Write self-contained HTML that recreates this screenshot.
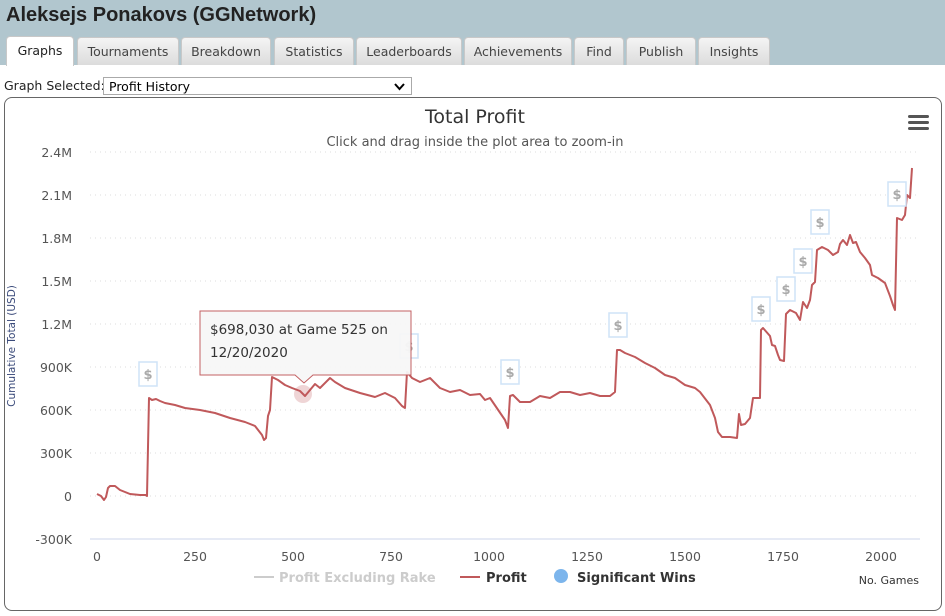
<!DOCTYPE html>
<html><head><style>
body{margin:0;width:945px;height:616px;background:#fff;font-family:"DejaVu Sans","Liberation Sans",sans-serif;position:relative;overflow:hidden}
.hdr{position:absolute;left:0;top:0;width:945px;height:65px;background:#b1c6ce}
.title{position:absolute;left:6px;top:4px;font:bold 20px "Liberation Sans",Arial,sans-serif;color:#222}
.tab{position:absolute;top:37px;height:27px;background:linear-gradient(#f4f4f4,#dcdcdc);border:1px solid #c8c8c8;border-bottom:none;border-radius:4px 4px 0 0;font-size:12.5px;color:#444;text-align:center;line-height:27px}
.tab.on{background:#fff;top:36px;height:29px;color:#222}
.sel{position:absolute;left:4px;top:78px;font-size:12.5px;color:#222}
.box{position:absolute;left:103px;top:77px;height:18px;border:1px solid #aaa;font-size:12.5px;line-height:18px;padding-left:5px;box-sizing:border-box;width:309px}
.chart{position:absolute;left:4px;top:97px;width:938px;height:514px;border:1px solid #666;border-radius:8px;box-sizing:border-box}
</style></head><body>
<div class="hdr"><div class="title">Aleksejs Ponakovs (GGNetwork)</div>
<div class="tab on" style="left:6px;width:66px">Graphs</div>
<div class="tab" style="left:77px;width:100px">Tournaments</div>
<div class="tab" style="left:181px;width:88px">Breakdown</div>
<div class="tab" style="left:274px;width:78px">Statistics</div>
<div class="tab" style="left:356px;width:104px">Leaderboards</div>
<div class="tab" style="left:464px;width:106px">Achievements</div>
<div class="tab" style="left:574px;width:48px">Find</div>
<div class="tab" style="left:626px;width:68px">Publish</div>
<div class="tab" style="left:698px;width:70px">Insights</div>
</div>
<div class="sel">Graph Selected:</div>
<div class="box">Profit History<svg style="position:absolute;right:6px;top:5px" width="11" height="8"><path d="M1,1 L5.5,6 L10,1" fill="none" stroke="#000" stroke-width="2"/></svg></div>
<div class="chart"></div>
<svg width="945" height="616" style="position:absolute;left:0;top:0" font-family="DejaVu Sans,Liberation Sans,sans-serif">
<text x="475" y="123" text-anchor="middle" font-size="19" fill="#333">Total Profit</text>
<text x="475" y="146" text-anchor="middle" font-size="13" fill="#555">Click and drag inside the plot area to zoom-in</text>
<g fill="#555"><rect x="908" y="115" width="21" height="3" rx="1.5"/><rect x="908" y="121" width="21" height="3" rx="1.5"/><rect x="908" y="127" width="21" height="3" rx="1.5"/></g>
<g stroke="#ddd" stroke-dasharray="1,4">
<line x1="90" x2="920" y1="152" y2="152"/><line x1="90" x2="920" y1="195" y2="195"/><line x1="90" x2="920" y1="238" y2="238"/><line x1="90" x2="920" y1="281" y2="281"/><line x1="90" x2="920" y1="324" y2="324"/><line x1="90" x2="920" y1="367" y2="367"/><line x1="90" x2="920" y1="410" y2="410"/><line x1="90" x2="920" y1="453" y2="453"/><line x1="90" x2="920" y1="496" y2="496"/></g>
<line x1="90" x2="920" y1="539" y2="539" stroke="#ccd6eb"/>
<g font-size="12.5" fill="#555" text-anchor="end">
<text x="72" y="157">2.4M</text><text x="72" y="200">2.1M</text><text x="72" y="243">1.8M</text><text x="72" y="286">1.5M</text><text x="72" y="329">1.2M</text><text x="72" y="372">900K</text><text x="72" y="415">600K</text><text x="72" y="458">300K</text><text x="72" y="501">0</text><text x="72" y="544">-300K</text></g>
<g font-size="12.5" fill="#555" text-anchor="middle">
<text x="97" y="561">0</text><text x="195" y="561">250</text><text x="293" y="561">500</text><text x="391" y="561">750</text><text x="489" y="561">1000</text><text x="587" y="561">1250</text><text x="685" y="561">1500</text><text x="783" y="561">1750</text><text x="881" y="561">2000</text></g>
<text transform="translate(15,346) rotate(-90)" text-anchor="middle" font-size="10.5" fill="#3a4a7a">Cumulative Total (USD)</text>
<text x="919" y="584" text-anchor="end" font-size="11" fill="#333">No. Games</text>
<polyline fill="none" stroke="#c0595b" stroke-width="2" stroke-linejoin="round" points="97,494 101,496 104,500 106,497 108,488 110,486 115,486 120,490 125,492 130,494 140,495 146,495 147,496 149,398 152,400 156,399 160,401 165,403 175,405 185,408 200,410 215,413 230,418 245,422 255,426 262,435 264,440 266,438 268,416 270,410 272,377 278,380 285,385 292,388 300,391 305,396 310,390 315,384 320,388 330,378 335,382 345,388 360,393 375,397 385,393 395,398 402,406 405,408 407,372 412,378 420,382 430,378 440,388 450,392 460,390 470,395 480,394 485,400 490,398 505,420 508,428 510,396 513,395 520,402 530,402 540,396 550,398 560,392 570,392 580,395 590,393 600,396 610,396 615,392 617,350 620,350 625,353 635,357 645,363 655,368 665,375 675,378 685,385 695,388 700,392 710,405 715,418 718,432 722,437 730,437 737,438 739,414 741,425 745,424 750,418 753,398 760,398 761,330 763,328 770,336 772,345 775,346 778,355 780,360 784,361 786,314 790,310 796,313 800,320 803,302 807,308 810,300 812,285 815,282 817,250 822,247 828,250 833,255 838,252 840,244 843,240 847,245 850,235 853,243 856,242 860,252 865,258 870,265 872,275 878,278 885,283 890,296 893,305 895,310 897,218 902,220 905,215 907,195 910,198 912,168"/>
<g font-size="13" font-weight="bold" fill="#aaa" text-anchor="middle" stroke-width="1.5">
<g><rect x="139" y="362" width="18" height="24" fill="#fff" stroke="#cfe3f7"/><text x="148" y="379">$</text></g>
<g><rect x="400" y="334" width="18" height="24" fill="#fff" stroke="#cfe3f7"/><text x="409" y="351">$</text></g>
<g><rect x="501" y="360" width="18" height="24" fill="#fff" stroke="#cfe3f7"/><text x="510" y="377">$</text></g>
<g><rect x="609" y="313" width="18" height="24" fill="#fff" stroke="#cfe3f7"/><text x="618" y="330">$</text></g>
<g><rect x="752" y="297" width="18" height="24" fill="#fff" stroke="#cfe3f7"/><text x="761" y="314">$</text></g>
<g><rect x="777" y="277" width="18" height="24" fill="#fff" stroke="#cfe3f7"/><text x="786" y="294">$</text></g>
<g><rect x="794" y="249" width="18" height="24" fill="#fff" stroke="#cfe3f7"/><text x="803" y="266">$</text></g>
<g><rect x="811" y="210" width="18" height="24" fill="#fff" stroke="#cfe3f7"/><text x="820" y="227">$</text></g>
<g><rect x="888" y="182" width="18" height="24" fill="#fff" stroke="#cfe3f7"/><text x="897" y="199">$</text></g>
</g>
<circle cx="303" cy="394" r="9" fill="#c0595b" opacity="0.25"/>
<path d="M200,311 H411 V375 H313 L304,383 L295,375 H200 Z" fill="#f7f7f7" stroke="#c0595b" stroke-width="1" opacity="0.95"/>
<text x="210" y="334" font-size="13.5" fill="#333">$698,030 at Game 525 on</text>
<text x="210" y="357" font-size="13.5" fill="#333">12/20/2020</text>
<line x1="254" x2="274" y1="577" y2="577" stroke="#ccc" stroke-width="2"/>
<text x="279" y="582" font-size="13" font-weight="bold" fill="#ccc">Profit Excluding Rake</text>
<line x1="460" x2="480" y1="577" y2="577" stroke="#c0595b" stroke-width="2"/>
<text x="486" y="582" font-size="13" font-weight="bold" fill="#333">Profit</text>
<circle cx="561" cy="576" r="7" fill="#7cb5ec"/>
<text x="577" y="582" font-size="13" font-weight="bold" fill="#333">Significant Wins</text>
</svg>
</body></html>
